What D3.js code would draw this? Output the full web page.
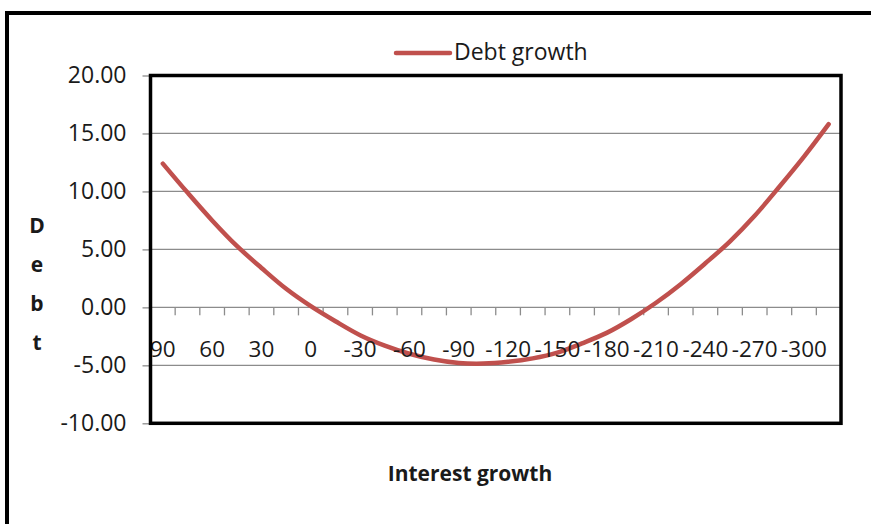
<!DOCTYPE html>
<html>
<head>
<meta charset="utf-8">
<script src="https://cdn.jsdelivr.net/npm/d3@7"></script>
<style>
  html, body { margin: 0; padding: 0; background: #fff; }
  svg { display: block; font-family: "Open Sans", sans-serif; }
</style>
</head>
<body>
<svg id="chart" width="871" height="524"></svg>
<script>
// Interest growth categories (every 15 points), left to right
const categories = [90, 75, 60, 45, 30, 15, 0, -15, -30, -45, -60, -75, -90, -105,
  -120, -135, -150, -165, -180, -195, -210, -225, -240, -255, -270, -285, -300, -315];
// Debt growth for each interest growth step
const debtGrowth = [12.4, 9.9, 7.5, 5.3, 3.4, 1.6, 0.1, -1.2, -2.4, -3.3, -4.0, -4.5, -4.8, -4.85,
  -4.7, -4.4, -3.9, -3.1, -2.2, -1.0, 0.4, 2.0, 3.8, 5.7, 7.9, 10.4, 13.0, 15.8];
const yTicks = [-10, -5, 0, 5, 10, 15, 20];
const seriesName = "Debt growth";
const xTitle = "Interest growth";
const yTitle = "Debt";

const svg = d3.select("#chart");
const plot = { left: 150.5, right: 841, top: 75.5, bottom: 423.3 };

const x = d3.scaleBand().domain(categories).range([plot.left, plot.right]).padding(0);
const y = d3.scaleLinear().domain([-10, 20]).range([plot.bottom, plot.top]);

// plain hyphen for negative numbers
const fmt2 = d => d.toFixed(2);

// outer chart frame
svg.append("rect")
  .attr("x", 7).attr("y", 13).attr("width", 900).attr("height", 600)
  .attr("fill", "#fff").attr("stroke", "#000").attr("stroke-width", 4);

// horizontal gridlines
svg.append("g").selectAll("line").data(yTicks).join("line")
  .attr("x1", plot.left).attr("x2", plot.right)
  .attr("y1", d => y(d)).attr("y2", d => y(d))
  .attr("stroke", "#8c8c8c").attr("stroke-width", 1.3);

// y axis: ticks and labels
const yAxis = svg.append("g")
  .attr("transform", `translate(${plot.left},0)`)
  .call(d3.axisLeft(y).tickValues(yTicks).tickFormat(fmt2).tickSize(8).tickPadding(16));
yAxis.select(".domain").remove();
yAxis.selectAll(".tick line").attr("stroke", "#8c8c8c").attr("stroke-width", 1.3);
yAxis.selectAll(".tick text")
  .attr("font-family", "'Open Sans', sans-serif").attr("font-size", 23)
  .attr("fill", "#1a1a1a");

// x axis tick marks at category boundaries, hanging below the zero line
const y0 = y(0);
svg.append("g").selectAll("line").data(categories.slice(1)).join("line")
  .attr("x1", d => x(d)).attr("x2", d => x(d))
  .attr("y1", y0).attr("y2", y0 + 8)
  .attr("stroke", "#8c8c8c").attr("stroke-width", 1.3);

// series line
const line = d3.line()
  .x((d, i) => x(categories[i]) + x.bandwidth() / 2)
  .y(d => y(d))
  .curve(d3.curveCatmullRom.alpha(0.5));
svg.append("path")
  .datum(debtGrowth)
  .attr("d", line)
  .attr("fill", "none")
  .attr("stroke", "#c0504d")
  .attr("stroke-width", 4.5)
  .attr("stroke-linecap", "round")
  .attr("stroke-linejoin", "round");

// x category labels, every second category
svg.append("g").selectAll("text")
  .data(categories.filter((d, i) => i % 2 === 0)).join("text")
  .attr("x", d => x(d) + x.bandwidth() / 2)
  .attr("y", 357)
  .attr("text-anchor", "middle")
  .attr("font-size", 22.5)
  .attr("fill", "#1a1a1a")
  .text(d => String(d));

// plot area border
svg.append("rect")
  .attr("x", plot.left).attr("y", plot.top)
  .attr("width", plot.right - plot.left).attr("height", plot.bottom - plot.top)
  .attr("fill", "none").attr("stroke", "#000").attr("stroke-width", 3.5);

// legend
const legend = svg.append("g");
legend.append("line")
  .attr("x1", 396).attr("x2", 450).attr("y1", 53).attr("y2", 53)
  .attr("stroke", "#c0504d").attr("stroke-width", 4.5).attr("stroke-linecap", "round");
legend.append("text")
  .attr("x", 454).attr("y", 60)
  .attr("font-size", 23).attr("fill", "#1a1a1a")
  .text(seriesName);

// axis titles
svg.append("text")
  .attr("x", 470).attr("y", 481)
  .attr("text-anchor", "middle")
  .attr("font-size", 21).attr("font-weight", "bold").attr("fill", "#1a1a1a")
  .text(xTitle);

svg.append("g").selectAll("text")
  .data(yTitle.split("")).join("text")
  .attr("x", 37)
  .attr("y", (d, i) => 233 + i * 39)
  .attr("text-anchor", "middle")
  .attr("font-size", 21).attr("font-weight", "bold").attr("fill", "#1a1a1a")
  .text(d => d);
</script>
</body>
</html>
